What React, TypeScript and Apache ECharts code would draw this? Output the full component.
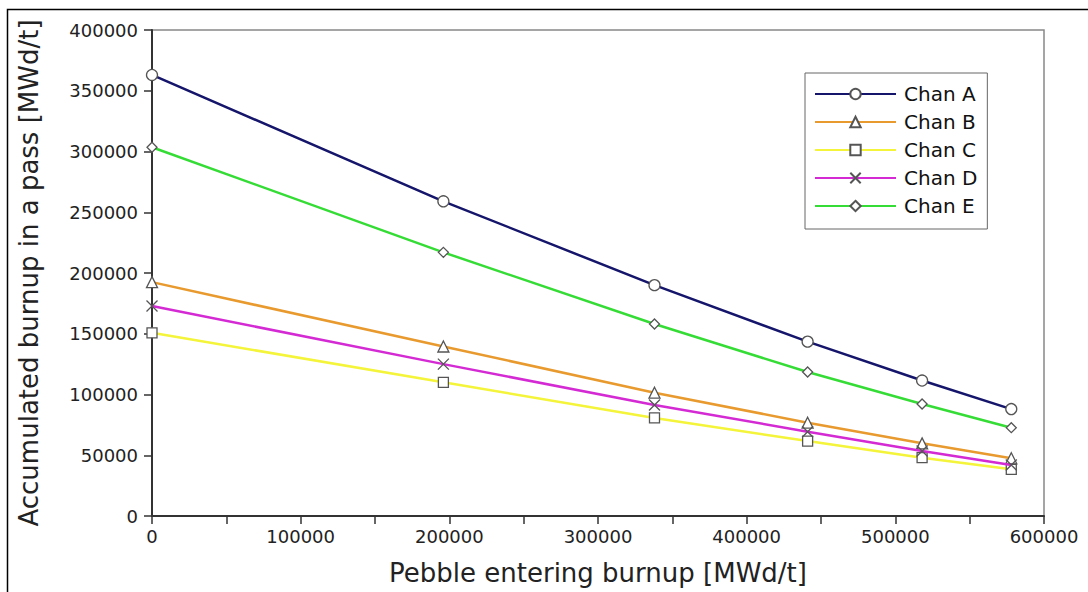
import React, { useEffect, useRef } from "react";
import * as echarts from "echarts";

const xValues = [0, 196000, 338000, 441000, 518000, 578000];
const chanA = [363000, 259000, 190000, 143500, 111500, 88000];
const chanB = [192500, 139500, 101500, 76800, 59800, 47500];
const chanC = [150800, 110000, 80700, 61700, 48000, 38400];
const chanD = [172800, 125000, 91400, 69400, 53500, 42000];
const chanE = [303500, 217000, 158000, 118500, 92200, 72700];
const seriesNames = ["Chan A", "Chan B", "Chan C", "Chan D", "Chan E"];
const xAxisTitle = "Pebble entering burnup [MWd/t]";
const yAxisTitle = "Accumulated burnup in a pass [MWd/t]";

const FONT = "DejaVu Sans";

export default function App() {
  const ref = useRef<HTMLDivElement>(null);
  useEffect(() => {
    document.body.style.margin = "0";
    const chart = echarts.init(ref.current!, null, { renderer: "svg" });
    const seriesData = [chanA, chanB, chanC, chanD, chanE];
    const colors = ["#15156b", "#e89a2e", "#f4f43a", "#d42ad4", "#35dc35"];
    const symbols = [
      "circle",
      "triangle",
      "rect",
      "path://M0 0L10 10M10 0L0 10",
      "diamond",
    ];
    const sizes = [11, 11, 10, 11, 10];
    const fmt = (v: number) => String(v);
    chart.setOption({
      animation: false,
      backgroundColor: "#fff",
      textStyle: { fontFamily: FONT },
      grid: {
        left: 152,
        right: 44,
        top: 30,
        bottom: 76,
        show: true,
        borderColor: "#888",
        borderWidth: 1.5,
        backgroundColor: "transparent",
      },
      legend: {
        show: true,
        orient: "vertical",
        left: 805,
        top: 73,
        itemWidth: 81,
        itemHeight: 13,
        itemGap: 8,
        padding: [11, 10, 13, 9],
        borderColor: "#666",
        borderWidth: 1,
        backgroundColor: "#fff",
        textStyle: { fontFamily: FONT, fontSize: 20, color: "#111", padding: [0, 0, 0, 3] },
        data: seriesNames,
      },
      xAxis: {
        type: "value",
        min: 0,
        max: 600000,
        interval: 100000,
        name: xAxisTitle,
        nameLocation: "middle",
        nameGap: 44,
        nameTextStyle: { fontFamily: FONT, fontSize: 26, color: "#222" },
        axisLine: { show: true, lineStyle: { color: "#333", width: 2 } },
        axisTick: { show: true, length: 8, lineStyle: { color: "#333", width: 1.5 } },
        minorTick: { show: true, splitNumber: 2, length: 8, lineStyle: { color: "#333", width: 1.5 } },
        splitLine: { show: false },
        axisLabel: { fontFamily: FONT, fontSize: 18, color: "#222", margin: 11, formatter: fmt },
      },
      yAxis: {
        type: "value",
        min: 0,
        max: 400000,
        interval: 50000,
        name: yAxisTitle,
        nameLocation: "middle",
        nameGap: 110,
        nameTextStyle: { fontFamily: FONT, fontSize: 26, color: "#222" },
        axisLine: { show: true, lineStyle: { color: "#333", width: 2 } },
        axisTick: { show: true, length: 8, lineStyle: { color: "#333", width: 1.5 } },
        splitLine: { show: false },
        axisLabel: { fontFamily: FONT, fontSize: 18, color: "#222", margin: 14, formatter: fmt },
      },
      series: seriesNames.map((name, i) => ({
        name,
        type: "line",
        data: xValues.map((x, j) => [x, seriesData[i][j]]),
        symbol: symbols[i],
        symbolSize: sizes[i],
        showAllSymbol: true,
        lineStyle: { color: colors[i], width: 2.5 },
        itemStyle: { color: "#fff", borderColor: "#555", borderWidth: 1.3 },
        emphasis: { disabled: true },
        z: 2 + i,
      })),
      graphic: [
        {
          type: "polyline",
          shape: { points: [[7.5, 592], [7.5, 9.5], [1088, 9.5]] },
          style: { stroke: "#000", lineWidth: 1.5, fill: "none" },
          silent: true,
        },
      ],
    });
    return () => chart.dispose();
  }, []);
  return <div ref={ref} style={{ width: 1088, height: 592 }} />;
}
